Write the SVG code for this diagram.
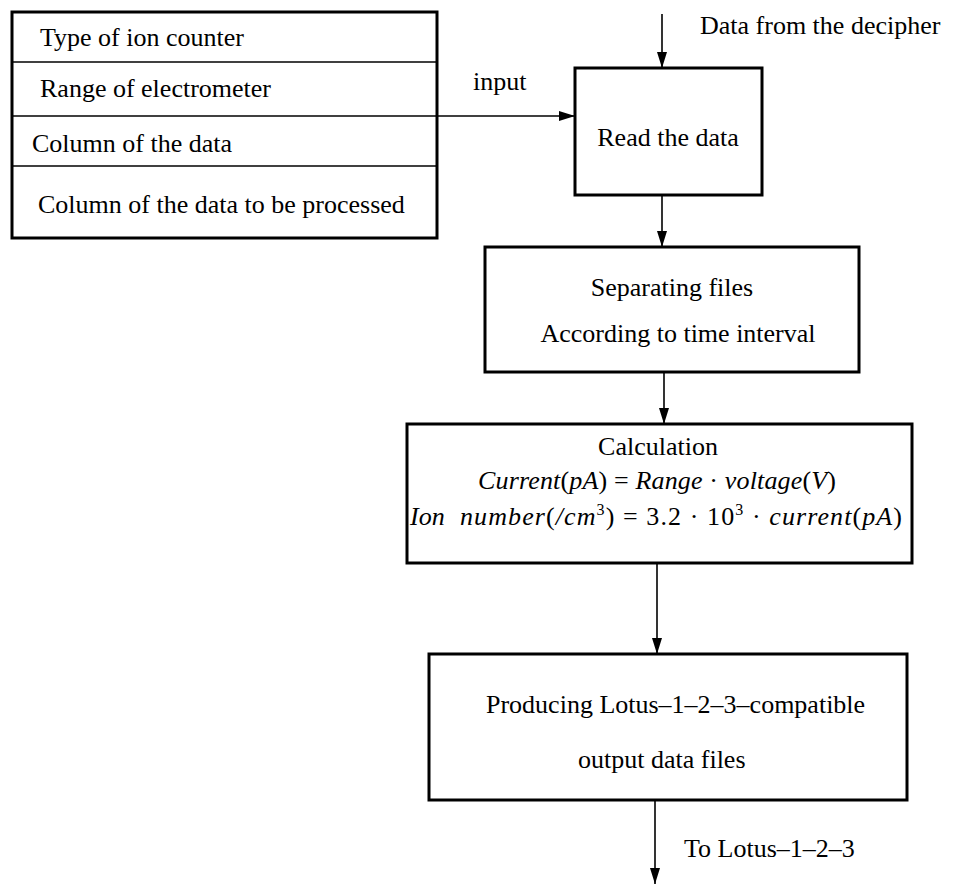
<svg xmlns="http://www.w3.org/2000/svg" width="960" height="884" viewBox="0 0 960 884">
<defs>
<style>
text{font-family:"Liberation Serif","Times New Roman",serif;font-size:26px;fill:#000}
.box{fill:#fff;stroke:#000;stroke-width:3}
.div{stroke:#000;stroke-width:1.5}
.conn{stroke:#000;stroke-width:1.6;fill:none;marker-end:url(#ah)}
.i{font-style:italic}
</style>
<marker id="ah" markerUnits="userSpaceOnUse" markerWidth="17" markerHeight="11" refX="16" refY="5" orient="auto">
<path d="M0,0 L16,5 L0,10 z" fill="#000"/>
</marker>
</defs>
<rect width="960" height="884" fill="#fff"/>
<g id="connectors">
<line class="conn" x1="437" y1="116" x2="575" y2="116"/>
<line class="conn" x1="662" y1="14" x2="662" y2="68"/>
<line class="conn" x1="662" y1="195" x2="662" y2="247"/>
<line class="conn" x1="664" y1="372" x2="664" y2="424"/>
<line class="conn" x1="657" y1="563" x2="657" y2="654"/>
<line class="conn" x1="655" y1="800" x2="655" y2="884"/>
</g>
<g id="params">
<rect class="box" x="12" y="12" width="425" height="226"/>
<line class="div" x1="12" y1="62" x2="437" y2="62"/>
<line class="div" x1="12" y1="116" x2="437" y2="116"/>
<line class="div" x1="12" y1="166" x2="437" y2="166"/>
<text x="40" y="46">Type of ion counter</text>
<text x="40" y="97">Range of electrometer</text>
<text x="32" y="152">Column of the data</text>
<text x="38" y="213">Column of the data to be processed</text>
</g>
<g id="label-input"><text x="473" y="90">input</text></g>
<g id="label-decipher"><text x="700" y="34">Data from the decipher</text></g>
<g id="read">
<rect class="box" x="575" y="68" width="187" height="127"/>
<text x="668" y="146" text-anchor="middle">Read the data</text>
</g>
<g id="separate">
<rect class="box" x="485" y="247" width="374" height="125"/>
<text x="672" y="296" text-anchor="middle">Separating files</text>
<text x="678" y="342" text-anchor="middle">According to time interval</text>
</g>
<g id="calc">
<rect class="box" x="407" y="424" width="505" height="139"/>
<text x="658" y="455" text-anchor="middle">Calculation</text>
<text x="478" y="489" textLength="358" lengthAdjust="spacing"><tspan class="i">Current</tspan>(<tspan class="i">pA</tspan>) = <tspan class="i">Range</tspan> · <tspan class="i">voltage</tspan>(<tspan class="i">V</tspan>)</text>
<text x="410" y="525" class="i">Ion</text>
<text x="460" y="525" textLength="442" lengthAdjust="spacing"><tspan class="i">number</tspan>(<tspan class="i">/cm</tspan><tspan font-size="16" dy="-10">3</tspan><tspan dy="10">) = 3.2 · 10</tspan><tspan font-size="16" dy="-10">3</tspan><tspan dy="10"> · </tspan><tspan class="i">current</tspan>(<tspan class="i">pA</tspan>)</text>
</g>
<g id="produce">
<rect class="box" x="429" y="654" width="478" height="146"/>
<text x="486" y="713">Producing Lotus–1–2–3–compatible</text>
<text x="578" y="768">output data files</text>
</g>
<g id="label-lotus"><text x="684" y="857">To Lotus–1–2–3</text></g>
</svg>
